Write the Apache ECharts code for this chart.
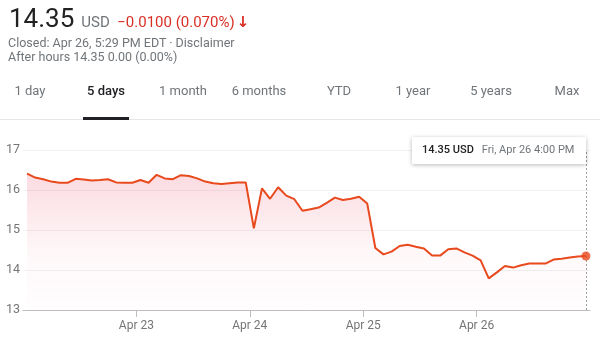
<!DOCTYPE html>
<html>
<head>
<meta charset="utf-8">
<script src="https://cdn.jsdelivr.net/npm/echarts@6/dist/echarts.min.js"></script>
<style>
  body { margin: 0; background: #fff; font-family: Roboto, Arial, sans-serif; }
  #wrap { position: relative; width: 600px; height: 340px; overflow: hidden; }
  #chart { position: absolute; left: 0; top: 0; width: 600px; height: 340px; }
  .hd { position: absolute; left: 9px; white-space: nowrap; }
  .price { top: 3px; font-size: 26px; color: #222; }
  .price .cur { font-size: 15px; color: #70757a; margin-left: 7px; }
  .price .chg { font-size: 15px; color: #d93025; margin-left: 1px; }
  .price .arr { font-family: 'DejaVu Sans', sans-serif; font-weight: bold; font-size: 15px; margin-left: 2px; }
  .sub { font-size: 12.5px; color: #70757a; left: 8px; }
  .tab { position: absolute; top: 83px; font-size: 13px; color: #70757a; transform: translateX(-50%); white-space: nowrap; }
  .tab.on { color: #202124; font-weight: 500; }
  #sep { position: absolute; left: 0; top: 119px; width: 600px; height: 1px; background: #e6e6e6; }
  #ul { position: absolute; left: 83px; top: 117px; width: 46px; height: 3px; background: #202124; }
</style>
</head>
<body>
<div id="wrap">
  <div id="chart"></div>
  <div class="hd price">14.35<span class="cur">USD</span> <span class="chg">−0.0100 (0.070%)<span class="arr">↓</span></span></div>
  <div class="hd sub" style="top:35px">Closed: Apr 26, 5:29 PM EDT · Disclaimer</div>
  <div class="hd sub" style="top:49px">After hours 14.35 0.00 (0.00%)</div>
  <div id="tabs"></div>
  <div id="sep"></div>
  <div id="ul"></div>
</div>
<script>
// tabs
var tabs = ['1 day', '5 days', '1 month', '6 months', 'YTD', '1 year', '5 years', 'Max']
var tabX = [30, 106, 183, 259, 339, 413, 491, 567]

// 30 min closes, 9:30 .. 16:00, one array per session
var apr22 = [16.41, 16.31, 16.27, 16.21, 16.18, 16.18, 16.28, 16.26, 16.24, 16.25, 16.27, 16.19, 16.18, 16.18]
var apr23 = [16.25, 16.18, 16.38, 16.29, 16.27, 16.37, 16.35, 16.29, 16.21, 16.17, 16.15, 16.17, 16.19, 16.19]
var apr24 = [15.04, 16.04, 15.78, 16.07, 15.86, 15.77, 15.48, 15.52, 15.56, 15.68, 15.81, 15.75, 15.78, 15.83]
var apr25 = [15.66, 14.55, 14.39, 14.46, 14.60, 14.63, 14.58, 14.54, 14.36, 14.36, 14.52, 14.54, 14.44, 14.36]
var apr26 = [14.24, 13.79, 13.94, 14.10, 14.06, 14.12, 14.16, 14.16, 14.16, 14.26, 14.28, 14.31, 14.34, 14.35]
var days = ['Apr 22', 'Apr 23', 'Apr 24', 'Apr 25', 'Apr 26']
var yTicks = [13, 14, 15, 16, 17]
var tipDate = 'Fri, Apr 26 4:00 PM'

var tabsEl = document.getElementById('tabs')
for (var t = 0; t < tabs.length; t++) {
  var d = document.createElement('div')
  d.className = 'tab' + (t === 1 ? ' on' : '')
  d.style.left = tabX[t] + 'px'
  d.textContent = tabs[t]
  tabsEl.appendChild(d)
}

var sessions = [apr22, apr23, apr24, apr25, apr26]
var perDay = apr22.length
var prices = [].concat(apr22, apr23, apr24, apr25, apr26)
// x: point i sits in the middle of slot i, day boundaries on multiples of perDay
var data = []
for (var i = 0; i < prices.length; i++) {
  data.push([i + 0.5, prices[i]])
}
var last = data[data.length - 1]
var dayStarts = []
for (var k = 1; k < sessions.length; k++) dayStarts.push(k * perDay)

var lineColor = '#e8491d'
var chart = echarts.init(document.getElementById('chart'))
var option = {
  animation: false,
  grid: { left: 23, right: 10, top: 150, bottom: 30 },
  xAxis: {
    type: 'value',
    min: 0,
    max: prices.length,
    axisLine: { lineStyle: { color: '#bdbdbd', width: 1 } },
    axisTick: { show: true, length: 7, lineStyle: { color: '#bdbdbd' }, customValues: dayStarts },
    axisLabel: {
      customValues: dayStarts,
      margin: 10,
      color: '#757575',
      fontSize: 12,
      fontFamily: 'Roboto',
      formatter: function (v) { return days[Math.round(v / perDay)] }
    },
    splitLine: { show: false }
  },
  yAxis: {
    type: 'value',
    min: yTicks[0],
    max: yTicks[yTicks.length - 1],
    interval: 1,
    axisLine: { show: false },
    axisTick: { show: false },
    axisLabel: { margin: 3, color: '#757575', fontSize: 12.5, fontFamily: 'Roboto' },
    splitLine: { lineStyle: { color: '#f1f1f1' } }
  },
  series: [{
    type: 'line',
    data: data,
    showSymbol: false,
    lineStyle: { color: lineColor, width: 2 },
    itemStyle: { color: lineColor },
    areaStyle: {
      origin: 'start',
      color: new echarts.graphic.LinearGradient(0, 0, 0, 1, [
        { offset: 0, color: 'rgba(232,60,90,0.26)' },
        { offset: 0.6, color: 'rgba(232,60,90,0.05)' },
        { offset: 1, color: 'rgba(232,60,90,0.01)' }
      ])
    },
    markLine: {
      silent: true,
      symbol: 'none',
      label: { show: false },
      lineStyle: { color: '#9e9e9e', type: [2, 2], width: 1 },
      data: [{ xAxis: last[0] }]
    }
  }, {
    type: 'scatter',
    data: [last],
    symbolSize: 9,
    itemStyle: { color: lineColor },
    z: 5
  }],
  graphic: [{
    type: 'group',
    left: 412,
    top: 137,
    z: 100,
    zlevel: 1,
    children: [{
      type: 'rect',
      z: 100,
      shape: { x: 0, y: 0, width: 174, height: 27, r: 1 },
      style: { fill: '#fff', shadowBlur: 4, shadowColor: 'rgba(0,0,0,0.28)', shadowOffsetY: 1 }
    }, {
      type: 'text',
      z: 101,
      x: 10,
      y: 13.5,
      style: {
        text: '{b|' + last[1].toFixed(2) + ' USD}{g|' + tipDate + '}',
        verticalAlign: 'middle',
        rich: {
          b: { fontSize: 11, fontFamily: 'Roboto', fontWeight: 500, fill: '#222', padding: [0, 8, 0, 0] },
          g: { fontSize: 11, fontFamily: 'Roboto', fill: '#70757a' }
        }
      }
    }]
  }]
}
chart.setOption(option)
</script>
</body>
</html>
